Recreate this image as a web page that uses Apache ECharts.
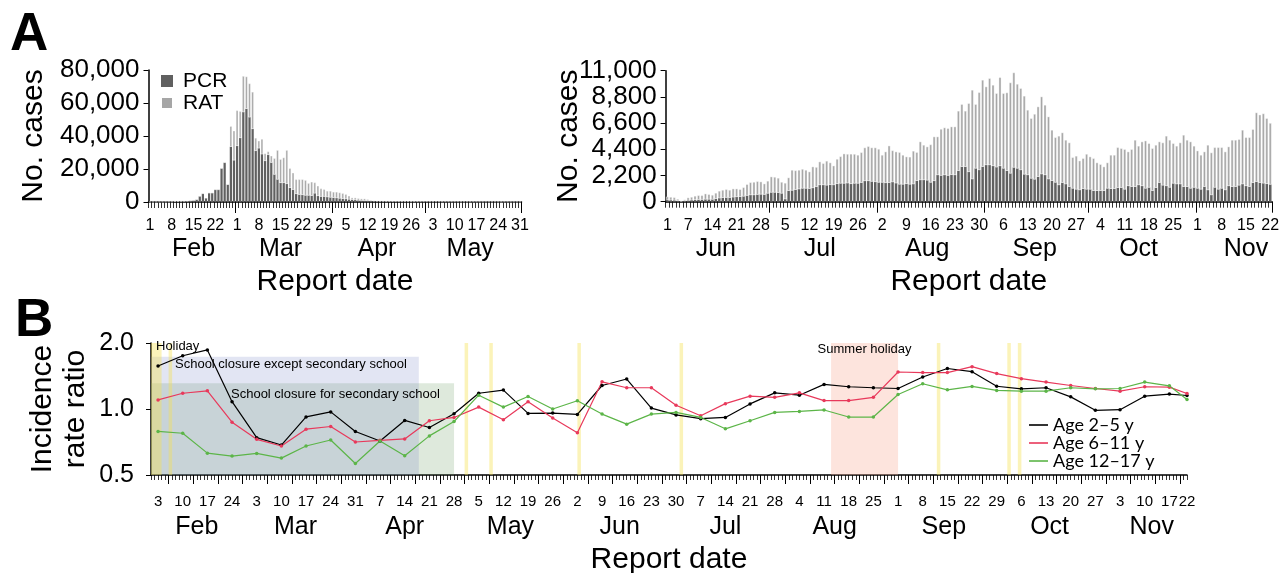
<!DOCTYPE html>
<html>
<head>
<meta charset="utf-8">
<script src="https://cdn.jsdelivr.net/npm/echarts@6/dist/echarts.min.js"></script>
<style>html,body{margin:0;padding:0;background:#fff}#c{width:1282px;height:573px}</style>
</head>
<body>
<div id="c"></div>
<script>
// ---------- Panel A (left): Feb 1 – May 31, 2022 ----------
const pcrFebMay = [50,60,80,80,100,120,150,150,300,350,450,500,600,800,1000,1500,
 3500,5100,2400,5500,5500,7500,7500,20400,23900,10600,
 33500,25300,34000,38800,54500,56500,51400,44300,31000,32600,
 29000,24900,28600,23900,16700,13700,11600,11600,11000,8600,
 7500,4900,4500,4300,4000,4000,3800,5300,3700,3300,
 3300,3000,2800,2600,2400,2200,2000,1800,1600,1400,
 1200,1000,900,800,700,600,500,
 400,350,350,300,300,250,250,
 250,250,240,230,230,220,220,210,200,200,200,190,190,180,180,180,170,170,160,160,
 160,150,150,150,150,140,140,140,130,130,130,130,120,120,120,120,110,110,110,100];
const ratFebMay = [0,0,0,0,0,0,0,0,0,0,0,0,0,0,0,0,
 0,0,0,0,0,0,0,0,0,0,
 12400,17900,21500,16200,21800,19500,20400,22400,7800,4500,
 9100,4500,2000,4100,9800,17700,14300,15300,20400,11800,
 10200,8800,9200,9400,9200,7400,8400,6500,6100,4800,
 4400,3700,3900,3500,3700,3500,3300,2900,2100,1200,
 1400,1200,1100,1200,900,600,300,
 200,150,150,100,100,100,50,
 50,50,50,50,50,50,50,50,50,50,30,30,30,30,30,30,30,30,30,30,
 0,0,0,0,0,0,0,0,0,0,0,0,0,0,0,0,0,0,0,0];

// ---------- Panel A (right): Jun 1 – Nov 22, 2022 ----------
const pcrJunNov = [140,130,120,80,30,60,110,130,150,170,
 180,200,200,190,250,300,330,350,340,380,
 400,420,450,520,560,560,600,620,600,700,
 780,780,760,700,220,920,950,1000,1060,1120,
 1120,1100,1150,1250,1400,1400,1380,1420,1400,1500,
 1540,1540,1560,1500,1540,1540,1600,1740,1740,1700,
 1660,1620,1620,1580,1600,1650,1560,1460,1460,1500,
 1460,1480,1760,1820,1820,1800,1620,1750,2240,2200,
 2240,2200,2260,2240,2600,2940,2940,2500,1900,2800,
 2660,2940,3080,3080,3000,2900,
 3000,2800,2600,2380,2880,2800,2660,2300,2240,1960,
 1880,2100,2320,2240,1900,1760,1620,1400,1600,1480,
 1260,1120,1040,980,1090,1040,1040,920,920,920,
 920,1120,1090,1090,1180,1180,1040,1320,1260,1260,
 1400,1320,1120,1200,920,1180,1600,1380,1320,1200,
 1540,1480,1480,1260,1260,1120,1200,1120,1040,1260,
 980,560,1200,1040,1120,980,1320,1260,1260,1380,
 1480,1320,1260,1600,1680,1600,1550,1500,1450];
const ratJunNov = [280,260,240,140,50,110,230,260,330,360,
 350,470,420,370,480,600,650,690,640,710,
 690,620,750,940,1060,1090,1110,1060,910,1040,
 1320,1290,1230,950,1350,1100,1710,1620,1600,1620,
 1540,1420,1790,1650,1960,1820,2040,1860,1620,2080,
 2260,2490,2440,2510,2460,2380,2540,2800,2910,2840,
 2880,2800,2300,2620,3100,2650,2640,2690,2460,2280,
 2300,2780,2390,3220,2940,2820,3180,3710,3220,3900,
 3980,3960,4040,4060,5020,5240,4680,5760,7480,5380,
 6520,7280,6580,7280,6800,6200,
 7440,6300,6560,7620,7960,7080,6860,6580,5460,5040,
 5480,5880,6500,5880,5240,4260,3780,4120,4200,3700,
 3700,2600,2800,2460,2550,2960,2740,2720,2360,2220,
 2020,2160,2830,2830,3380,3300,3360,2880,3140,3920,
 3280,3720,4000,3700,3560,3580,3440,3580,4200,3980,
 3360,3200,3480,4340,3920,3920,3480,3160,2880,2940,
 3780,3560,3360,3520,3440,3220,3300,3920,3920,3860,
 4540,4080,4140,4480,5800,5700,5850,5500,5150];

// ---------- Panel B: weekly incidence rate ratios ----------
const weekDates = ['2022-02-03','2022-02-10','2022-02-17','2022-02-24','2022-03-03','2022-03-10','2022-03-17','2022-03-24','2022-03-31',
 '2022-04-07','2022-04-14','2022-04-21','2022-04-28','2022-05-05','2022-05-12','2022-05-19','2022-05-26',
 '2022-06-02','2022-06-09','2022-06-16','2022-06-23','2022-06-30','2022-07-07','2022-07-14','2022-07-21','2022-07-28',
 '2022-08-04','2022-08-11','2022-08-18','2022-08-25','2022-09-01','2022-09-08','2022-09-15','2022-09-22','2022-09-29',
 '2022-10-06','2022-10-13','2022-10-20','2022-10-27','2022-11-03','2022-11-10','2022-11-17','2022-11-22'];
const age2to5 = [1.57,1.75,1.86,1.08,0.74,0.685,0.92,0.97,0.79,0.715,0.887,0.823,0.952,1.18,1.22,0.955,0.958,0.945,1.28,1.37,1.01,0.94,
 0.903,0.915,1.055,1.185,1.156,1.295,1.263,1.25,1.24,1.40,1.53,1.48,1.27,1.236,1.25,1.136,0.986,0.993,1.144,1.17,1.152];
const age6to11 = [1.10,1.18,1.21,0.871,0.727,0.678,0.809,0.832,0.707,0.72,0.73,0.884,0.915,1.02,0.893,1.08,0.909,0.78,1.33,1.25,1.25,1.04,
 0.932,1.058,1.144,1.13,1.185,1.092,1.092,1.13,1.475,1.466,1.466,1.56,1.45,1.375,1.327,1.28,1.24,1.206,1.263,1.258,1.177];
const age12to17 = [0.79,0.775,0.629,0.61,0.627,0.597,0.678,0.722,0.564,0.715,0.612,0.754,0.877,1.156,1.02,1.14,1.0,1.09,0.948,0.853,0.948,0.965,
 0.915,0.812,0.884,0.965,0.975,0.99,0.919,0.919,1.164,1.304,1.223,1.267,1.215,1.206,1.206,1.25,1.236,1.24,1.327,1.276,1.104];

// Holiday / closure periods (dates)
const publicHolidays = [['2022-02-01','2022-02-04'],['2022-02-06','2022-02-07'],['2022-05-01','2022-05-02'],['2022-05-08','2022-05-09'],
 ['2022-06-02','2022-06-03'],['2022-07-01','2022-07-02'],['2022-09-12','2022-09-13'],['2022-10-02','2022-10-03'],['2022-10-05','2022-10-06']];
const closureExceptSecondary = ['2022-02-01','2022-04-18'];
const closureSecondary = ['2022-02-01','2022-04-28'];
const summerHoliday = ['2022-08-13','2022-09-01'];

const monthNames = ['Jan','Feb','Mar','Apr','May','Jun','Jul','Aug','Sep','Oct','Nov','Dec'];
const FONT = "'Liberation Sans', Arial, sans-serif";

function dayList(from, to) {
  const out = [];
  let t = Date.parse(from + 'T00:00:00Z');
  const end = Date.parse(to + 'T00:00:00Z');
  while (t <= end) { out.push(new Date(t).toISOString().slice(0, 10)); t += 86400000; }
  return out;
}
const catLeft = dayList('2022-02-01', '2022-05-31');
const catRight = dayList('2022-06-01', '2022-11-22');
const catB = dayList('2022-02-01', '2022-11-22');
const dom = v => String(+v.slice(8, 10));
const mon = v => monthNames[+v.slice(5, 7) - 1];

function axisSet(gridIndex, cats, o) {
  const base = {gridIndex, type: 'category', data: cats, boundaryGap: o.bg, position: 'bottom', splitLine: {show: false}};
  return [
    Object.assign({}, base, {
      axisLine: {show: true, onZero: false, lineStyle: {color: '#000', width: 1.5}},
      axisTick: {show: true, interval: 0, length: o.minorLen, lineStyle: {color: '#000', width: 0.8}},
      axisLabel: {interval: o.labelFn, formatter: dom, fontSize: o.labelSize, margin: o.labelMargin, color: '#000', fontFamily: FONT}
    }),
    Object.assign({}, base, {
      axisLine: {show: false, onZero: false},
      axisTick: {show: true, interval: o.majorFn, length: o.majorLen, lineStyle: {color: '#000', width: 1}},
      axisLabel: {show: false}
    }),
    Object.assign({}, base, {
      axisLine: {show: false, onZero: false},
      axisTick: {show: false},
      axisLabel: {interval: o.monthFn, formatter: mon, fontSize: 25, margin: o.monthMargin, color: '#000', fontFamily: FONT},
      name: 'Report date', nameLocation: 'middle', nameGap: o.nameGap, nameMoveOverlap: false,
      nameTextStyle: {fontSize: 30, color: '#000', fontFamily: FONT}
    })
  ];
}

function lastDayInCats(cats, v) {
  const ym = v.slice(0, 7);
  let last = 0;
  for (const c of cats) if (c.slice(0, 7) === ym) last = Math.max(last, +c.slice(8));
  return last;
}

const xAxes = [].concat(
  axisSet(0, catLeft, {bg: true, minorLen: 6, majorLen: 11, labelSize: 16, labelMargin: 16, monthMargin: 35, nameGap: 65,
    labelFn: i => i % 7 === 0,
    majorFn: (i, v) => i > 0 && v.endsWith('-01'),
    monthFn: (i, v) => v.endsWith('-15')}),
  axisSet(1, catRight, {bg: true, minorLen: 6, majorLen: 11, labelSize: 16, labelMargin: 16, monthMargin: 35, nameGap: 65,
    labelFn: i => i === 0 || (i >= 6 && (i - 6) % 7 === 0),
    majorFn: (i, v) => i > 0 && v.endsWith('-01'),
    monthFn: (i, v) => v.endsWith('-15')}),
  axisSet(2, catB, {bg: false, minorLen: 5, majorLen: 9, labelSize: 15, labelMargin: 19, monthMargin: 40, nameGap: 70,
    labelFn: i => (i >= 2 && (i - 2) % 7 === 0 && i <= 289) || i === catB.length - 1,
    majorFn: i => (i - 5) % 7 === 0 && i >= 5,
    monthFn: (i, v) => +v.slice(8) === Math.min(14, Math.floor(lastDayInCats(catB, v) / 2) + 1)})
);

function yValueAxis(gridIndex, max, interval, nameGap) {
  return {gridIndex, type: 'value', min: 0, max, interval,
    axisLine: {show: true, lineStyle: {color: '#000', width: 1.5}},
    axisTick: {show: true, length: 5, lineStyle: {color: '#000', width: 1}},
    axisLabel: {fontSize: 26, margin: 9, color: '#000', fontFamily: FONT, formatter: v => v.toLocaleString('en-US')},
    splitLine: {show: false},
    name: 'No. cases', nameLocation: 'middle', nameGap, nameMoveOverlap: false,
    nameTextStyle: {fontSize: 30, color: '#000', fontFamily: FONT}};
}

const yAxes = [
  yValueAxis(0, 80000, 20000, 100),
  yValueAxis(1, 11000, 2200, 82),
  {gridIndex: 2, type: 'log', logBase: 2, min: 0.5, max: 2,
    axisLine: {show: true, lineStyle: {color: '#000', width: 1.5}},
    axisTick: {show: true, length: 5, lineStyle: {color: '#000', width: 1}},
    axisLabel: {fontSize: 25, margin: 17, color: '#000', fontFamily: FONT, formatter: v => Number(v).toFixed(1)},
    splitLine: {show: false}, minorTick: {show: false},
    name: 'Incidence\nrate ratio', nameLocation: 'middle', nameGap: 59, nameMoveOverlap: false,
    nameTextStyle: {fontSize: 30, lineHeight: 33, color: '#000', fontFamily: FONT}}
];

const PCR_COLOR = '#606060';
const RAT_COLOR = '#a6a6a6';
function barPair(xi, yi, stack, pcr, rat) {
  return [
    {type: 'bar', name: 'PCR', xAxisIndex: xi, yAxisIndex: yi, stack, data: pcr, barCategoryGap: '28%',
      itemStyle: {color: PCR_COLOR}, silent: true},
    {type: 'bar', name: 'RAT', xAxisIndex: xi, yAxisIndex: yi, stack, data: rat, barCategoryGap: '28%',
      itemStyle: {color: RAT_COLOR, borderColor: '#ffffff', borderWidth: 0.4}, silent: true}
  ];
}

const yellow = 'rgba(245,225,80,0.40)';
const bandLabel = {show: true, color: '#000', fontSize: 13, fontFamily: FONT};
const areaData = [
  [{xAxis: closureSecondary[0], yAxis: 0.5, itemStyle: {color: 'rgba(100,150,90,0.21)'},
     name: 'School closure for secondary school', label: Object.assign({position: [80, 5]}, bandLabel)},
   {xAxis: closureSecondary[1], yAxis: 1.31}],
  [{xAxis: closureExceptSecondary[0], yAxis: 0.5, itemStyle: {color: 'rgba(120,130,200,0.21)'},
     name: 'School closure except secondary school', label: Object.assign({position: [24, 1]}, bandLabel)},
   {xAxis: closureExceptSecondary[1], yAxis: 1.73}],
  [{xAxis: summerHoliday[0], yAxis: 0.5, itemStyle: {color: 'rgba(250,170,150,0.32)'},
     name: 'Summer holiday', label: Object.assign({position: ['50%', 0], align: 'center'}, bandLabel)},
   {xAxis: summerHoliday[1], yAxis: 2}]
].concat(publicHolidays.map((h, k) => [
  {xAxis: h[0], yAxis: 0.5, itemStyle: {color: yellow},
    name: k === 0 ? 'Holiday' : '', label: k === 0 ? Object.assign({position: [5, -3]}, bandLabel) : {show: false}},
  {xAxis: h[1], yAxis: 2}
]));

function lineSeries(name, values, color, extra) {
  return Object.assign({type: 'line', name, xAxisIndex: 6, yAxisIndex: 2,
    data: weekDates.map((d, i) => [d, values[i]]),
    symbol: 'circle', symbolSize: 3.5, showSymbol: true,
    lineStyle: {width: 1.2, color}, itemStyle: {color}, silent: true, z: 3}, extra || {});
}

const option = {
  animation: false,
  backgroundColor: '#fff',
  textStyle: {fontFamily: FONT, color: '#000'},
  grid: [
    {left: 148.5, top: 70, width: 373, height: 132, outerBoundsMode: 'none', containLabel: false},
    {left: 665.6, top: 70.7, width: 606.4, height: 131, outerBoundsMode: 'none', containLabel: false},
    {left: 151, top: 343, width: 1036, height: 132, outerBoundsMode: 'none', containLabel: false}
  ],
  xAxis: xAxes,
  yAxis: yAxes,
  legend: [
    {data: ['PCR', 'RAT'], left: 160, top: 70, padding: 0, orient: 'vertical', icon: 'rect', itemWidth: 12, itemHeight: 12, itemGap: 0,
      selectedMode: false, textStyle: {fontSize: 21, lineHeight: 22, color: '#000', fontFamily: FONT, padding: [0, 0, 0, 5]}},
    {data: ['Age 2–5 y', 'Age 6–11 y', 'Age 12–17 y'], left: 1029, top: 416, padding: 0, orient: 'vertical', icon: 'rect',
      itemWidth: 19, itemHeight: 1.6, itemGap: 0, selectedMode: false,
      textStyle: {fontSize: 18, lineHeight: 16.5, color: '#000', fontFamily: 'Lato, ' + FONT}}
  ],
  graphic: [
    {type: 'text', left: 10, top: 9, style: {text: 'A', font: 'bold 53px ' + FONT, fill: '#000'}},
    {type: 'text', left: 15, top: 295, style: {text: 'B', font: 'bold 53px ' + FONT, fill: '#000'}}
  ],
  series: [].concat(
    barPair(0, 0, 'left', pcrFebMay, ratFebMay),
    barPair(3, 1, 'right', pcrJunNov, ratJunNov),
    [
      lineSeries('Age 2–5 y', age2to5, '#000000', {markArea: {silent: true, z: 1, data: areaData}}),
      lineSeries('Age 6–11 y', age6to11, '#e8395b'),
      lineSeries('Age 12–17 y', age12to17, '#5cb548')
    ]
  )
};

const chart = echarts.init(document.getElementById('c'), null, {renderer: 'canvas', width: 1282, height: 573});
chart.setOption(option);
</script>
</body>
</html>
